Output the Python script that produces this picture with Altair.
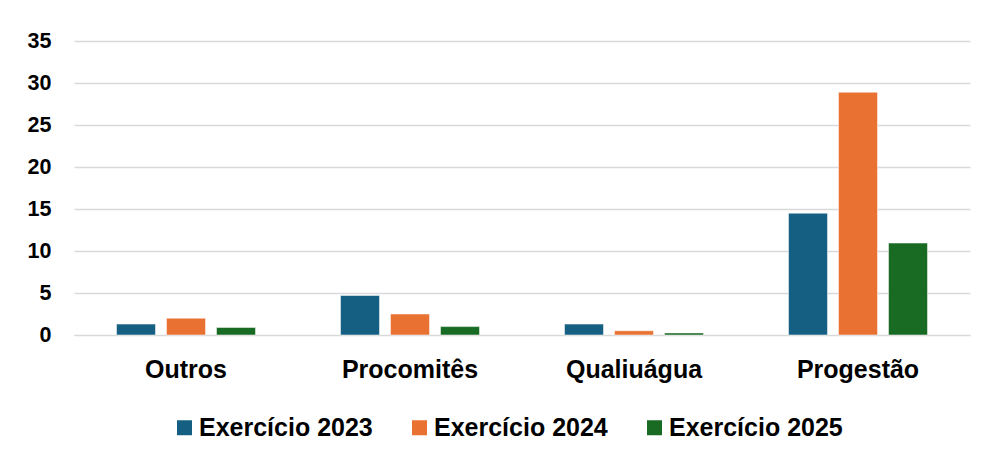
import altair as alt
import pandas as pd

categories = ["Outros", "Procomitês", "Qualiuágua", "Progestão"]
series = ["Exercício 2023", "Exercício 2024", "Exercício 2025"]
v2023 = [1.3, 4.7, 1.3, 14.5]
v2024 = [2.0, 2.5, 0.5, 28.9]
v2025 = [0.9, 1.0, 0.25, 10.95]
colors = ["#156082", "#E97132", "#196B24"]
y_ticks = [0, 5, 10, 15, 20, 25, 30, 35]

rows = []
for s, vals in zip(series, [v2023, v2024, v2025]):
    for c, v in zip(categories, vals):
        rows.append({"cat": c, "serie": s, "valor": v})
df = pd.DataFrame(rows)

FONT = "Liberation Sans"

chart = alt.Chart(df).mark_bar(stroke="white", strokeWidth=0.5).encode(
    x=alt.X("cat:N", sort=categories, title=None,
            scale=alt.Scale(paddingInner=0, paddingOuter=0),
            axis=alt.Axis(labelAngle=0, labelFontSize=25, labelFontWeight="bold",
                          labelColor="black", labelPadding=22, ticks=False,
                          labelLimit=300,
                          domain=True, domainColor="#d9d9d9", labelFont=FONT)),
    xOffset=alt.XOffset("serie:N", sort=series,
                        scale=alt.Scale(paddingInner=0.22, paddingOuter=0.85)),
    y=alt.Y("valor:Q", title=None,
            scale=alt.Scale(domain=[0, 35], nice=False),
            axis=alt.Axis(values=y_ticks, labelFontSize=21.5, labelFontWeight="bold",
                          labelColor="black", labelPadding=23, ticks=False,
                          domain=False, gridColor="#d9d9d9", gridWidth=1.3,
                          labelFont=FONT)),
    color=alt.Color("serie:N", sort=series, title=None,
                    scale=alt.Scale(domain=series, range=colors),
                    legend=alt.Legend(orient="none", legendX=98, legendY=374,
                                      direction="horizontal", padding=0,
                                      symbolType="square",
                                      symbolSize=225, symbolStrokeWidth=0,
                                      labelFontSize=25, labelFontWeight="bold",
                                      labelColor="black", labelFont=FONT,
                                      labelLimit=300,
                                      labelOffset=2, columnPadding=34)),
).properties(
    width=896, height=294,
    autosize=alt.AutoSizeParams(type="none"),
    padding={"left": 66, "top": 33, "right": 5, "bottom": 116},
).configure_view(stroke=None)

chart.save("out.html", embed_options={"renderer": "svg", "actions": False})
